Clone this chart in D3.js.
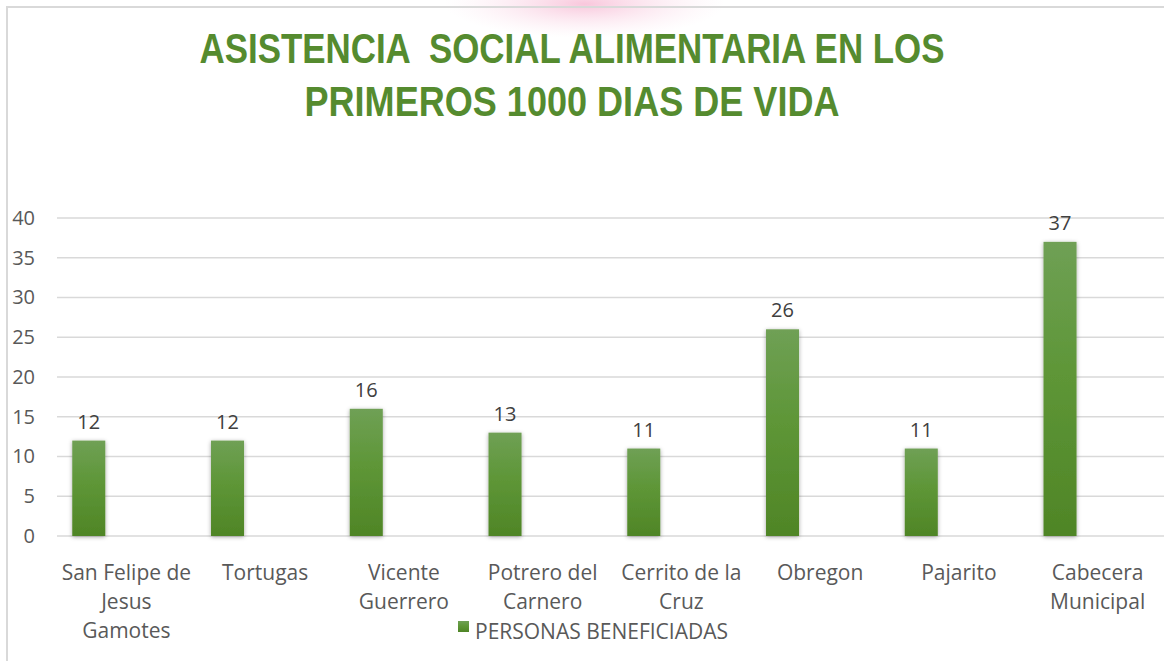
<!DOCTYPE html>
<html>
<head>
<meta charset="utf-8">
<script src="https://cdn.jsdelivr.net/npm/d3@7"></script>
<style>
  html, body { margin: 0; padding: 0; background: #fff; }
  svg { display: block; }
</style>
</head>
<body>
<div id="chart"></div>
<script>
// chart data
const titleLines = ["ASISTENCIA  SOCIAL ALIMENTARIA EN LOS", "PRIMEROS 1000 DIAS DE VIDA"];
const categories = [
  "San Felipe de Jesus Gamotes", "Tortugas", "Vicente Guerrero", "Potrero del Carnero",
  "Cerrito de la Cruz", "Obregon", "Pajarito", "Cabecera Municipal"
];
const beneficiados = [12, 12, 16, 13, 11, 26, 11, 37];
const yTicks = [0, 5, 10, 15, 20, 25, 30, 35, 40];
const seriesName = "PERSONAS BENEFICIADAS";

const W = 1164, H = 661;
const plot = { left: 57, right: 1167, top: 218, bottom: 536 };
const font = "'Open Sans', 'Liberation Sans', sans-serif";
const gray = "#595959";

const svg = d3.select("#chart").append("svg")
  .attr("width", W)
  .attr("height", H);

const defs = svg.append("defs");

const barGrad = defs.append("linearGradient")
  .attr("id", "barGrad")
  .attr("x1", 0).attr("y1", 0).attr("x2", 0).attr("y2", 1);
barGrad.append("stop").attr("offset", "0%").attr("stop-color", "#6fa055");
barGrad.append("stop").attr("offset", "45%").attr("stop-color", "#5e9637");
barGrad.append("stop").attr("offset", "100%").attr("stop-color", "#4f8526");

const pink = defs.append("radialGradient").attr("id", "pinkGlow");
pink.append("stop").attr("offset", "0%").attr("stop-color", "#f7b9d3").attr("stop-opacity", 0.8);
pink.append("stop").attr("offset", "100%").attr("stop-color", "#fbe3ee").attr("stop-opacity", 0);

const shadow = defs.append("filter")
  .attr("id", "barShadow")
  .attr("x", "-40%").attr("y", "-10%").attr("width", "180%").attr("height", "120%");
shadow.append("feDropShadow")
  .attr("dx", 0).attr("dy", 1)
  .attr("stdDeviation", 2)
  .attr("flood-color", "#000")
  .attr("flood-opacity", 0.35);

// faint pink glow at the top + outer frame
svg.append("ellipse")
  .attr("cx", 585).attr("cy", 4)
  .attr("rx", 140).attr("ry", 34)
  .attr("fill", "url(#pinkGlow)");

svg.append("rect")
  .attr("x", 7).attr("y", 7)
  .attr("width", W + 20).attr("height", H + 20)
  .attr("fill", "none")
  .attr("stroke", "#d9d9d9")
  .attr("stroke-width", 2);

// title
const titleBase = [63, 116];
const titleWidth = [745, 535];
svg.selectAll("text.title")
  .data(titleLines)
  .enter()
  .append("text")
  .attr("class", "title")
  .attr("x", 572)
  .attr("y", (d, i) => titleBase[i])
  .attr("text-anchor", "middle")
  .attr("textLength", (d, i) => titleWidth[i])
  .attr("lengthAdjust", "spacingAndGlyphs")
  .style("font-family", "'Liberation Sans', Arial, sans-serif")
  .style("font-weight", "700")
  .style("font-size", "42px")
  .style("fill", "#558b2f")
  .style("white-space", "pre")
  .text(d => d);

// scales
const x = d3.scaleBand()
  .domain(categories)
  .range([plot.left, plot.right])
  .paddingInner(0)
  .paddingOuter(0);

const y = d3.scaleLinear()
  .domain([0, 40])
  .range([plot.bottom, plot.top]);

// gridlines
svg.append("g")
  .selectAll("line")
  .data(yTicks)
  .enter()
  .append("line")
  .attr("x1", plot.left)
  .attr("x2", W + 10)
  .attr("y1", d => y(d))
  .attr("y2", d => y(d))
  .attr("stroke", "#d9d9d9")
  .attr("stroke-width", 1.5);

// y axis labels
const yAxis = svg.append("g")
  .attr("transform", `translate(${plot.left},0)`)
  .call(d3.axisLeft(y).tickValues(yTicks).tickSize(0).tickPadding(22));
yAxis.select(".domain").remove();
yAxis.selectAll("text")
  .style("font-family", font)
  .style("font-size", "20px")
  .style("fill", gray);

// bars
const barOffset = x.bandwidth() * 0.11;
const barW = x.bandwidth() * 0.238;

svg.append("g")
  .selectAll("rect")
  .data(categories)
  .enter()
  .append("rect")
  .attr("x", d => x(d) + barOffset)
  .attr("y", (d, i) => y(beneficiados[i]))
  .attr("width", barW)
  .attr("height", (d, i) => y(0) - y(beneficiados[i]))
  .attr("fill", "url(#barGrad)")
  .attr("filter", "url(#barShadow)");

// value labels
svg.append("g")
  .selectAll("text")
  .data(categories)
  .enter()
  .append("text")
  .attr("x", d => x(d) + barOffset + barW / 2)
  .attr("y", (d, i) => y(beneficiados[i]) - 12)
  .attr("text-anchor", "middle")
  .style("font-family", font)
  .style("font-size", "20px")
  .style("fill", "#404040")
  .text((d, i) => beneficiados[i]);

// category axis
const xAxis = svg.append("g")
  .attr("transform", `translate(0,${plot.bottom})`)
  .call(d3.axisBottom(x).tickSize(0).tickPadding(29));
xAxis.select(".domain").remove();
xAxis.selectAll("text")
  .style("font-family", font)
  .style("font-size", "21px")
  .style("fill", gray)
  .call(wrap, x.bandwidth() - 6);

function wrap(texts, width) {
  texts.each(function() {
    const text = d3.select(this);
    const words = text.text().split(/\s+/);
    const yy = text.attr("y");
    const dy = parseFloat(text.attr("dy"));
    let line = [];
    let lineNo = 0;
    let tspan = text.text(null).append("tspan").attr("x", 0).attr("y", yy).attr("dy", dy + "em");
    words.forEach(w => {
      line.push(w);
      tspan.text(line.join(" "));
      if (tspan.node().getComputedTextLength() > width && line.length > 1) {
        line.pop();
        tspan.text(line.join(" "));
        line = [w];
        tspan = text.append("tspan")
          .attr("x", 0).attr("y", yy)
          .attr("dy", (++lineNo * 1.38 + dy) + "em")
          .text(w);
      }
    });
  });
}

// legend
const legend = svg.append("g").attr("transform", "translate(458,621)");
legend.append("rect")
  .attr("width", 11).attr("height", 11)
  .attr("fill", "url(#barGrad)");
legend.append("text")
  .attr("x", 17)
  .attr("y", 18)
  .style("font-family", font)
  .style("font-size", "21px")
  .style("fill", gray)
  .text(seriesName);
</script>
</body>
</html>
